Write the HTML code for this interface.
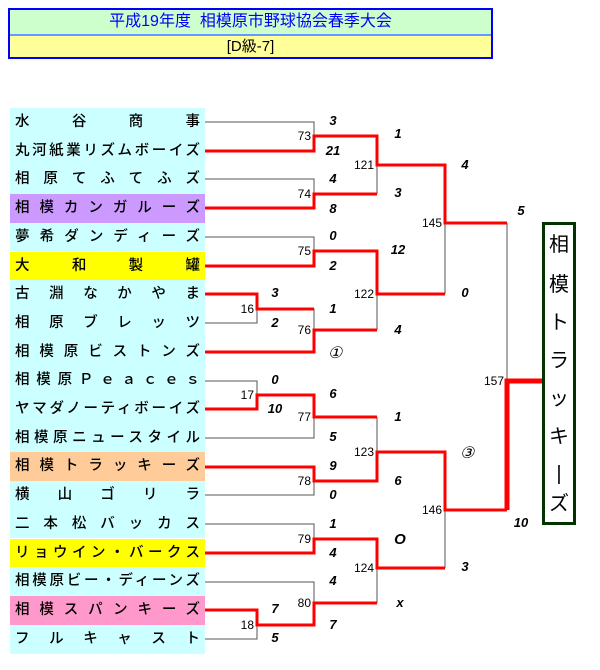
<!DOCTYPE html>
<html><head><meta charset="utf-8"><style>
body{margin:0;background:#fff;width:600px;height:670px;overflow:hidden;position:relative;font-family:"Liberation Sans","Noto Sans CJK JP",sans-serif}
#hdr{position:absolute;left:8px;top:8px;width:481px;height:47px;border:2px solid #0000ff;}
#h1{height:24px;background:#ccffcc;color:#0000ff;font-size:16px;text-align:center;line-height:24px;border-bottom:2px solid #6699ff}
#h2{height:21px;background:#ffff99;color:#000;font-size:15px;text-align:center;line-height:21px}
.n{position:absolute;left:10px;width:185px;padding:0 5px;height:28.7px;line-height:28.7px;font-size:14.5px;font-weight:500;background:#ccffff;text-align:justify;text-align-last:justify;white-space:nowrap;overflow:hidden}
svg{position:absolute;left:0;top:0}
.s{font:italic bold 13px "Liberation Sans",sans-serif}
.g{font:12px "Liberation Sans",sans-serif}
</style></head><body>
<div id="hdr"><div id="h1">平成19年度&nbsp; 相模原市野球協会春季大会</div><div id="h2">[D級-7]</div></div>
<div class="n" style="top:108px">水谷商事</div>
<div class="n" style="top:136.7px">丸河紙業リズムボーイズ</div>
<div class="n" style="top:165.4px">相原てふてふズ</div>
<div class="n" style="top:194.1px;background:#cc99ff">相模カンガルーズ</div>
<div class="n" style="top:222.8px">夢希ダンディーズ</div>
<div class="n" style="top:251.5px;background:#ffff00">大和製罐</div>
<div class="n" style="top:280.2px">古淵なかやま</div>
<div class="n" style="top:308.9px">相原ブレッツ</div>
<div class="n" style="top:337.6px">相模原ビストンズ</div>
<div class="n" style="top:366.3px">相模原Ｐｅａｃｅｓ</div>
<div class="n" style="top:395px">ヤマダノーティボーイズ</div>
<div class="n" style="top:423.7px">相模原ニュースタイル</div>
<div class="n" style="top:452.4px;background:#ffcc99">相模トラッキーズ</div>
<div class="n" style="top:481.1px">横山ゴリラ</div>
<div class="n" style="top:509.8px">二本松バッカス</div>
<div class="n" style="top:538.5px;background:#ffff00">リョウイン・バークス</div>
<div class="n" style="top:567.2px">相模原ビー・ディーンズ</div>
<div class="n" style="top:595.9px;background:#ff99cc">相模スパンキーズ</div>
<div class="n" style="top:624.6px;height:29px">フルキャスト</div>
<svg width="600" height="670" viewBox="0 0 600 670">
<g stroke="#555" stroke-width="1" fill="none">
<path d="M205 122H314V151M205 179H314V208M205 237H314V266M205 294H257V323H205M257 309H314V352M205 381H257V409H205M257 395H314V438H205M205 467H314V495H205M205 524H314V553M205 582H314V625M205 610H257V639H205"/>
<path d="M377 136V194M377 251V330M445 165V294M377 417V481M377 539V603M445 452V568M507 223V381"/>
</g>
<g stroke="#ff0000" stroke-width="3" fill="none">
<path d="M205 151H314V136H377V165H445V223H507"/>
<path d="M205 208H314V194H377"/>
<path d="M205 266H314V251H377V294H445"/>
<path d="M205 294H257V309H314"/>
<path d="M205 352H314V330H377"/>
<path d="M205 409H257V395H314V417H377"/>
<path d="M205 467H314V481H377V452H445V510H507"/>
<path d="M205 553H314V539H377V568H445"/>
<path d="M205 610H257V625H314V603H377"/>
</g>
<path d="M507 510V381H542" stroke="#ff0000" stroke-width="5" fill="none"/>
<rect x="543.5" y="223.5" width="31" height="300" fill="#fff" stroke="#003300" stroke-width="3"/>
<g font-family="Liberation Sans,Noto Sans CJK JP,sans-serif" font-size="20" text-anchor="middle">
<text x="559" y="251">相</text><text x="559" y="291">模</text><text x="559" y="329">ト</text><text x="559" y="367">ラ</text><text x="559" y="405">ッ</text><text x="559" y="443">キ</text><text x="559" y="480">|</text><text x="559" y="510">ズ</text>
</g>
<g class="g" text-anchor="end">
<text x="311" y="140">73</text><text x="311" y="198">74</text><text x="311" y="255">75</text><text x="311" y="334">76</text><text x="311" y="421">77</text><text x="311" y="485">78</text><text x="311" y="543">79</text><text x="311" y="607">80</text>
<text x="254" y="313">16</text><text x="254" y="399">17</text><text x="254" y="629">18</text>
<text x="374" y="169">121</text><text x="374" y="298">122</text><text x="374" y="456">123</text><text x="374" y="572">124</text>
<text x="442" y="227">145</text><text x="442" y="514">146</text><text x="504" y="385">157</text>
</g>
<g class="s" text-anchor="middle">
<text x="333" y="125">3</text><text x="333" y="155">21</text><text x="333" y="183">4</text><text x="333" y="213">8</text><text x="333" y="240">0</text><text x="333" y="270">2</text><text x="333" y="313">1</text><text x="335" y="358" font-weight="normal" font-size="16">①</text>
<text x="333" y="398">6</text><text x="333" y="441">5</text><text x="333" y="470">9</text><text x="333" y="499">0</text><text x="333" y="528">1</text><text x="333" y="557">4</text><text x="333" y="585">4</text><text x="333" y="629">7</text>
<text x="275" y="297">3</text><text x="275" y="327">2</text><text x="275" y="384">0</text><text x="275" y="413">10</text><text x="275" y="613">7</text><text x="275" y="642">5</text>
<text x="398" y="138">1</text><text x="398" y="197">3</text><text x="398" y="254">12</text><text x="398" y="334">4</text><text x="398" y="421">1</text><text x="398" y="485">6</text><text x="400" y="544" font-size="15">O</text><text x="400" y="607">x</text>
<text x="465" y="169">4</text><text x="465" y="297">0</text><text x="467" y="458" font-weight="normal" font-size="16">③</text><text x="465" y="571">3</text>
<text x="521" y="215">5</text><text x="521" y="527">10</text>
</g>
</svg>
</body></html>
